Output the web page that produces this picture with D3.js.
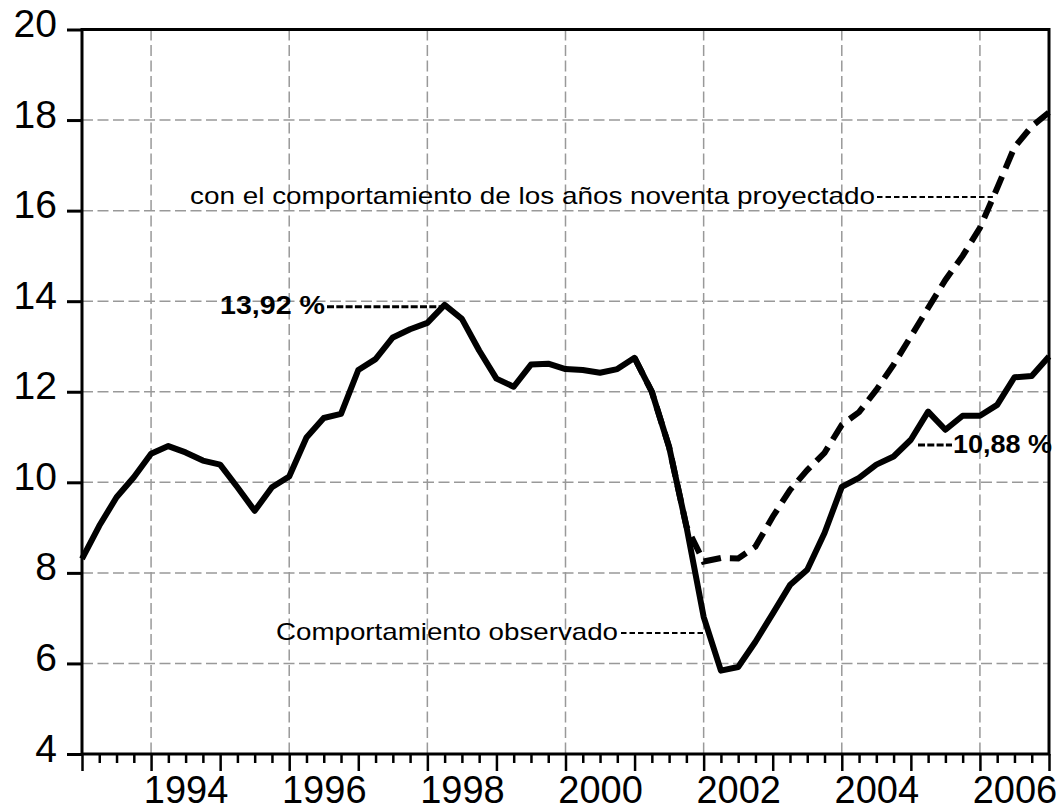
<!DOCTYPE html>
<html>
<head>
<meta charset="utf-8">
<script src="https://cdn.jsdelivr.net/npm/d3@7"></script>
<style>
  body { margin: 0; background: #fff; }
  svg { display: block; font-family: "Liberation Sans", Arial, sans-serif; }
</style>
</head>
<body>
<svg id="chart" width="1063" height="812"></svg>
<script>
// quarterly series, 1993Q1 .. 2007Q1
const startYear = 1993;
const observed = [
  8.31, 9.04, 9.67, 10.11, 10.63, 10.80, 10.66, 10.48, 10.39, 9.89,
  9.37, 9.89, 10.13, 10.99, 11.42, 11.51, 12.48, 12.72, 13.20, 13.38,
  13.52, 13.92, 13.61, 12.91, 12.29, 12.11, 12.60, 12.62, 12.50, 12.48,
  12.42, 12.50, 12.75, 12.00, 10.78, 9.03, 7.03, 5.84, 5.92, 6.48,
  7.10, 7.73, 8.07, 8.88, 9.90, 10.10, 10.39, 10.57, 10.94, 11.56,
  11.16, 11.47, 11.47, 11.71, 12.32, 12.35, 12.78
];
// projected path ("años noventa"), starts at quarter index 32 (2001Q1)
const projectedStart = 32;
const projected = [
  12.75, 12.00, 10.78, 9.03, 8.25, 8.33, 8.32, 8.58, 9.24, 9.83,
  10.27, 10.65, 11.27, 11.55, 12.04, 12.60, 13.22, 13.85, 14.47, 15.00,
  15.62, 16.50, 17.40, 17.86, 18.17
];
const yTicks = [4, 6, 8, 10, 12, 14, 16, 18, 20];
const yGrid = [6, 8, 10, 12, 14, 16, 18];
const gridYears = [1994, 1996, 1998, 2000, 2002, 2004, 2006];
const yearLabels = [1994, 1996, 1998, 2000, 2002, 2004, 2006];

const svg = d3.select('#chart');
const pLeft = 82, pRight = 1049, pTop = 29.5, pBottom = 754;

const x = d3.scaleLinear().domain([0, observed.length - 1]).range([pLeft, pRight]);
const y = d3.scaleLinear().domain([4, 20]).range([pBottom, pTop]);
const q = yr => (yr - startYear) * 4;

// gridlines
const grid = svg.append('g')
  .attr('stroke', '#999')
  .attr('stroke-width', 1.5)
  .attr('stroke-dasharray', '11,4.5');
grid.selectAll('.hg').data(yGrid).join('line')
  .attr('x1', pLeft).attr('x2', pRight)
  .attr('y1', d => y(d)).attr('y2', d => y(d));
grid.selectAll('.vg').data(gridYears).join('line')
  .attr('x1', d => x(q(d))).attr('x2', d => x(q(d)))
  .attr('y1', pTop).attr('y2', pBottom);

// y axis
const yAxis = svg.append('g')
  .attr('transform', `translate(${pLeft},0)`)
  .call(d3.axisLeft(y).tickValues(yTicks).tickSize(15).tickPadding(10));
yAxis.select('.domain').remove();
yAxis.selectAll('line').attr('stroke-width', 3);
yAxis.selectAll('text')
  .attr('dy', '0.18em')
  .style('font-size', '39px')
  .style('font-family', '"Liberation Sans", Arial, sans-serif')
  .attr('fill', '#000');

// x axis: quarter ticks, longer ticks at year starts
const xAxis = svg.append('g')
  .attr('transform', `translate(0,${pBottom})`)
  .call(d3.axisBottom(x).tickValues(d3.range(0, observed.length)).tickSize(9).tickFormat(''));
xAxis.select('.domain').remove();
xAxis.selectAll('.tick line')
  .attr('stroke-width', 2.5)
  .attr('y2', d => d % 4 === 0 ? 17 : 9);

// year labels centred on each year
const xLab = svg.append('g')
  .attr('transform', `translate(0,${pBottom})`)
  .call(d3.axisBottom(x).tickValues(yearLabels.map(d => q(d) + 2))
    .tickSize(0).tickPadding(22)
    .tickFormat(d => String(startYear + (d - 2) / 4)));
xLab.select('.domain').remove();
xLab.selectAll('text')
  .style('font-size', '38px')
  .style('font-family', '"Liberation Sans", Arial, sans-serif')
  .attr('fill', '#000');

// series
const line = d3.line().x(d => x(d[0])).y(d => y(d[1]));
svg.append('path')
  .datum(observed.map((v, i) => [i, v]))
  .attr('d', line)
  .attr('fill', 'none')
  .attr('stroke', '#000')
  .attr('stroke-width', 6)
  .attr('stroke-linejoin', 'round');
svg.append('path')
  .datum(projected.map((v, i) => [projectedStart + i, v]))
  .attr('d', line)
  .attr('fill', 'none')
  .attr('stroke', '#000')
  .attr('stroke-width', 6)
  .attr('stroke-dasharray', '18,9');

// frame
svg.append('rect')
  .attr('x', pLeft).attr('y', pTop)
  .attr('width', pRight - pLeft).attr('height', pBottom - pTop)
  .attr('fill', 'none').attr('stroke', '#000').attr('stroke-width', 3);

// annotations
function note(txt, tx, ty, len, bold, lx1, lx2, ly) {
  svg.append('line')
    .attr('x1', lx1).attr('x2', lx2).attr('y1', ly).attr('y2', ly)
    .attr('stroke', '#000')
    .attr('stroke-width', bold ? 3 : 2)
    .attr('stroke-dasharray', bold ? '7,2.3' : '5.5,3');
  svg.append('text')
    .attr('x', tx).attr('y', ty)
    .attr('textLength', len)
    .attr('lengthAdjust', 'spacingAndGlyphs')
    .style('font-size', bold ? '26px' : '24px')
    .style('font-weight', bold ? 'bold' : 'normal')
    .text(txt);
}
note('con el comportamiento de los años noventa proyectado', 190, 204, 685, false, 877, x(52.75), 197);
note('Comportamiento observado', 276, 640, 342, false, 621, 705, 633);
note('13,92 %', 220, y(13.92) + 9, 105, true, 327, x(21) - 2, y(13.92) + 2);
note('10,88 %', 953, 453, 99, true, 918, 952, 445);
</script>
</body>
</html>
